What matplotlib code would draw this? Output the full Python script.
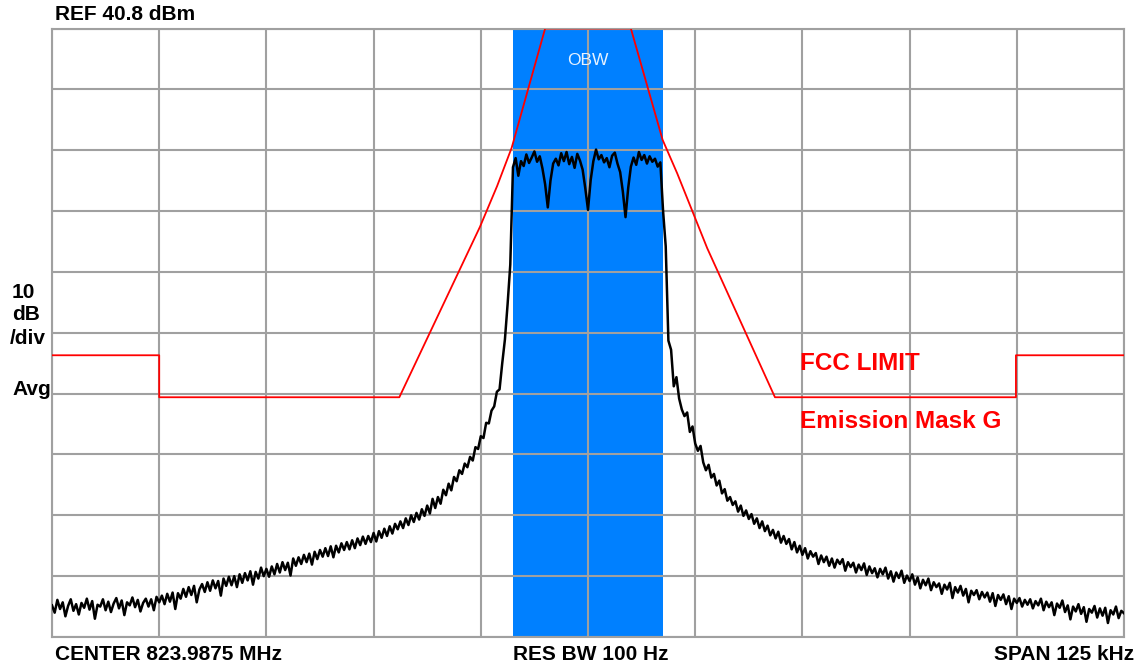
import numpy as np
import matplotlib
matplotlib.use("Agg")
import matplotlib.pyplot as plt

plt.rcParams['font.family'] = ['Liberation Sans', 'DejaVu Sans']

# analyzer settings
ref_level = 40.8      # dBm, top of screen
db_per_div = 10
span_khz = 125.0
obw_low, obw_high = -8.75, 8.75   # kHz offset from center

# FCC emission mask G (offset kHz, dBm)
mask_f = [-62.5, -50.0, -50.0, -22.0, -12.6, -10.6, -8.9, -5.0,
          5.0, 8.7, 10.4, 13.9, 21.8, 49.9, 49.9, 62.5]
mask_db = [-12.9, -12.9, -19.8, -19.8, 8.2, 14.9, 21.2, 40.8,
           40.8, 22.5, 17.0, 4.7, -19.8, -19.8, -12.9, -12.9]

trace_db = [
    -54.0, -55.2, -53.1, -54.6, -53.5, -55.8, -54.1, -53.0, -54.9, -53.8,
    -55.5, -53.6, -54.4, -52.9, -54.7, -53.3, -56.2, -53.9, -54.2, -53.0,
    -54.8, -53.4, -55.1, -53.7, -52.8, -54.5, -53.2, -55.6, -53.5, -54.0,
    -52.7, -54.3, -53.1, -55.0, -53.6, -52.9, -54.2, -53.0, -54.8, -52.6,
    -53.5, -52.4, -53.8, -52.1, -53.4, -51.9, -54.6, -52.0, -52.9, -51.3,
    -52.6, -51.0, -52.3, -50.8, -53.5, -51.4, -50.5, -51.8, -50.2, -51.6,
    -49.9, -51.2, -50.0, -52.4, -49.6, -50.8, -49.3, -50.7, -49.2, -51.0,
    -48.9, -50.3, -48.7, -49.9, -48.4, -50.6, -48.5, -49.6, -47.8, -49.2,
    -48.0, -49.3, -47.6, -48.9, -47.2, -48.6, -46.9, -48.2, -47.0, -49.1,
    -46.3, -47.5, -46.1, -47.2, -45.7, -46.9, -45.5, -47.3, -45.2, -46.4,
    -44.9, -46.0, -44.6, -45.9, -44.3, -46.1, -44.2, -45.3, -43.8, -44.9,
    -43.6, -44.8, -43.3, -44.6, -43.0, -44.1, -42.7, -43.9, -42.6, -43.6,
    -42.1, -43.5, -41.8, -42.9, -41.4, -42.6, -41.0, -42.2, -40.6, -41.5,
    -40.2, -41.3, -39.7, -40.8, -39.2, -40.3, -38.8, -39.9, -38.2, -39.3,
    -37.6, -38.9, -36.5, -38.0, -36.2, -37.3, -35.0, -35.9, -34.0, -35.1,
    -32.9, -33.6, -31.8, -32.4, -30.7, -31.3, -29.6, -30.2, -28.0, -28.3,
    -26.2, -26.5, -24.0, -24.1, -22.0, -21.3, -18.9, -18.5, -14.2, -10.3,
    -4.5, 2.0, 18.0, 19.5, 16.6, 19.0, 18.2, 20.1, 18.7, 19.6,
    20.6, 18.9, 19.8, 17.8, 15.2, 11.4, 15.8, 18.6, 19.4, 18.3,
    20.3, 19.0, 20.5, 18.5, 19.7, 17.9, 20.2, 19.1, 17.6, 14.5,
    11.0, 15.9, 19.0, 20.9, 19.3, 20.0, 18.8, 19.5, 18.0, 19.9,
    20.4, 18.6, 17.2, 14.0, 9.8, 14.6, 18.1, 19.6, 18.4, 20.5,
    19.2, 20.0, 18.6, 19.8, 18.9, 19.4, 18.1, 18.8, 10.9, 5.0,
    -10.5, -12.0, -18.0, -16.5, -20.0, -21.8, -22.9, -22.3, -25.5, -24.6,
    -27.4, -28.6, -27.8, -30.5, -31.8, -30.9, -33.0, -32.4, -34.3, -33.5,
    -35.6, -34.9, -36.8, -36.2, -37.5, -36.9, -38.6, -37.6, -39.3, -38.4,
    -39.8, -39.0, -40.6, -39.7, -41.3, -40.2, -41.8, -40.9, -42.5, -41.6,
    -43.0, -41.9, -43.7, -42.6, -43.9, -43.1, -44.8, -43.6, -45.3, -44.2,
    -45.7, -44.6, -46.3, -45.1, -46.0, -45.4, -47.2, -45.8, -46.9, -46.0,
    -47.5, -46.3, -47.8, -46.5, -47.2, -46.4, -48.3, -46.9, -47.7, -47.0,
    -48.6, -47.3, -48.2, -47.1, -49.0, -47.6, -48.7, -47.9, -49.4, -48.0,
    -48.9, -47.8, -49.6, -48.4, -50.1, -48.6, -49.5, -48.3, -50.3, -49.1,
    -50.0, -48.9, -50.6, -49.4, -51.2, -49.8, -50.7, -49.6, -51.5, -50.2,
    -51.0, -50.4, -52.1, -50.6, -51.4, -50.3, -52.8, -51.0, -51.9, -50.8,
    -52.4, -51.3, -53.5, -51.6, -52.3, -51.5, -53.0, -51.8, -52.7, -51.9,
    -53.4, -52.0, -54.1, -52.3, -53.1, -52.2, -53.8, -52.5, -54.6, -52.9,
    -53.6, -52.8, -54.2, -53.1, -53.9, -53.0, -54.5, -53.3, -54.0, -52.9,
    -54.8, -53.4, -54.3, -53.5, -55.6, -53.7, -54.4, -53.2, -55.1, -54.0,
    -56.3, -54.2, -55.0, -53.8, -55.4, -54.3, -56.7, -54.6, -55.2, -54.1,
    -56.0, -54.5, -55.7, -54.4, -56.9, -54.8, -55.5, -54.2, -56.1, -54.9,
    -55.3,
]
trace_f = np.linspace(-span_khz / 2, span_khz / 2, len(trace_db))

W, H = 1143, 670
fig = plt.figure(figsize=(W / 100, H / 100), dpi=100)
ax = fig.add_axes([52 / W, 1 - 637 / H, 1072 / W, 608.5 / H])

bottom = ref_level - 10 * db_per_div
ax.set_xlim(-span_khz / 2, span_khz / 2)
ax.set_ylim(bottom, ref_level)

# OBW band
ax.axvspan(obw_low, obw_high, color='#0080ff', zorder=1, lw=0)

# graticule
ax.set_xticks(np.linspace(-span_khz / 2, span_khz / 2, 11))
ax.set_yticks(np.linspace(bottom, ref_level, 11))
ax.grid(True, color='#a0a0a0', lw=1.5, zorder=2)
ax.set_axisbelow(False)
ax.tick_params(length=0, labelbottom=False, labelleft=False)
for s in ax.spines.values():
    s.set_color('#a0a0a0')
    s.set_linewidth(1.5)

ax.plot(mask_f, mask_db, color='#ff0000', lw=1.3, zorder=3, clip_on=True)
ax.plot(trace_f, trace_db, color='black', lw=1.8, zorder=4)

ax.text(0, ref_level - 5.2, 'OBW', color='#e6f2ff', fontsize=12.5,
        ha='center', va='center', zorder=5)


def px(x, y):
    return x / W, 1 - y / H


bold = dict(fontweight='bold', fontsize=15, va='center')
fig.text(*px(55, 15), 'REF 40.8 dBm', ha='left', **bold)
fig.text(*px(12, 292), '10', ha='left', **bold)
fig.text(*px(12, 314), 'dB', ha='left', **bold)
fig.text(*px(10, 339), '/div', ha='left', **bold)
fig.text(*px(12, 389), 'Avg', ha='left', **bold)
fig.text(*px(55, 655), 'CENTER 823.9875 MHz', ha='left', **bold)
fig.text(*px(591, 655), 'RES BW 100 Hz', ha='center', **bold)
fig.text(*px(1134, 655), 'SPAN 125 kHz', ha='right', **bold)

red = dict(fontweight='bold', fontsize=17.5, va='center', color='#ff0000')
fig.text(*px(800, 364), 'FCC LIMIT', ha='left', **red)
fig.text(*px(800, 422), 'Emission Mask G', ha='left', **red)

fig.savefig('out.png', dpi=100)
